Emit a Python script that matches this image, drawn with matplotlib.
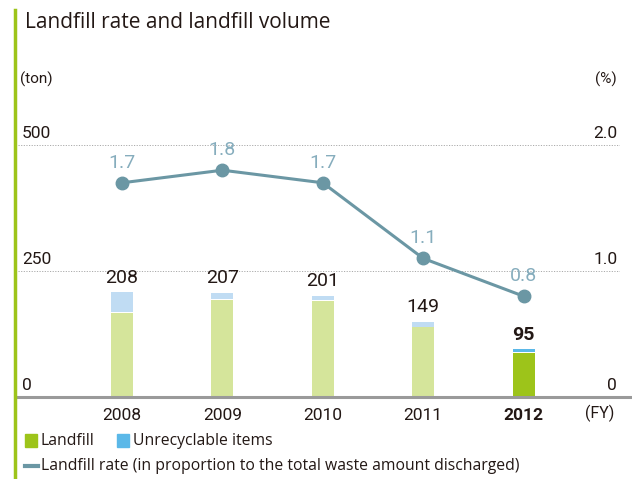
import matplotlib
matplotlib.use('Agg')
import matplotlib.pyplot as plt
from matplotlib.patches import Rectangle
from matplotlib.lines import Line2D

# data
years = ['2008', '2009', '2010', '2011', '2012']
landfill = [167, 193, 191, 138, 87]
unrecyclable = [41, 14, 10, 11, 8]
totals = [208, 207, 201, 149, 95]
rate = [1.7, 1.8, 1.7, 1.1, 0.8]
left_ticks = [0, 250, 500]
right_ticks = ['0', '1.0', '2.0']

num_font = ['Roboto', 'DejaVu Sans']
txt_font = ['Open Sans', 'DejaVu Sans']

green = '#9dc41a'
green_l = '#d5e59b'
blue = '#5bb8e8'
blue_l = '#c0dcf3'
line_c = '#6b97a4'
label_c = '#86adbd'
text_c = '#231815'
grid_c = '#9a9a9a'

W, H = 632, 479
fig = plt.figure(figsize=(W / 100, H / 100), dpi=100)

# axes: data 0 at y=397px, 500 at y=145px; bars centred at 122 + 100.4*i
ax_left, ax_right = 18, 620
ax_bottom, ax_top = 397, 137
ax = fig.add_axes([ax_left / W, 1 - ax_bottom / H,
                   (ax_right - ax_left) / W, (ax_bottom - ax_top) / H])
ymax = 500 * (ax_bottom - ax_top) / (397 - 145)
ax.set_ylim(0, ymax)
x0 = (ax_left - 122) / 100.4
x1 = (ax_right - 122) / 100.4
ax.set_xlim(x0, x1)
ax.axis('off')

xs = list(range(len(years)))
bw = 0.22
gap = 1.6  # white gap between segments, in tons

for i in xs:
    last = i == len(xs) - 1
    ax.bar(i, landfill[i], width=bw, color=green if last else green_l, zorder=2)
    ax.bar(i, unrecyclable[i] - gap, bottom=landfill[i] + gap, width=bw,
           color=blue if last else blue_l, zorder=2)
    ax.annotate(str(totals[i]), (i, totals[i]), xytext=(0, 4), textcoords='offset points',
                ha='center', va='bottom', fontsize=14, color=text_c, family=num_font,
                fontweight='bold' if last else 'normal')

# grid lines
for v in left_ticks[1:]:
    ax.plot([x0, x1], [v, v], color='#aaaaaa', lw=0.7, ls=(0, (1.2, 1.5)), zorder=1)
ax.plot([x0, x1 + 0.2], [0, 0], color=grid_c, lw=2.2, zorder=3, clip_on=False)

# right axis for the rate
ax2 = ax.twinx()
ax2.set_ylim(0, ymax / 250)
ax2.axis('off')
ax2.plot(xs, rate, color=line_c, lw=2.2, marker='o', ms=9, zorder=4)
for i in xs:
    ax2.annotate(f'{rate[i]:.1f}', (i, rate[i]), xytext=(0, 8), textcoords='offset points',
                 ha='center', va='bottom', fontsize=14, color=label_c, family=num_font)

# tick labels
for v in left_ticks:
    ax.annotate(str(v), (x0, v), xytext=(3, 3), textcoords='offset points',
                ha='left', va='bottom', fontsize=12.5, color=text_c, family=num_font)
for v, s in zip(left_ticks, right_ticks):
    ax.annotate(s, (x1, v), xytext=(-2, 3), textcoords='offset points',
                ha='right', va='bottom', fontsize=12.5, color=text_c, family=num_font)

for i, yr in enumerate(years):
    ax.annotate(yr, (i, 0), xytext=(0, -8), textcoords='offset points', ha='center',
                va='top', fontsize=12.5, color=text_c, family=num_font,
                fontweight='bold' if i == len(years) - 1 else 'normal', annotation_clip=False)
fig.text(614 / W, 1 - 413 / H, '(FY)', ha='right', va='center', fontsize=11.5,
         color=text_c, family=num_font)

fig.text(20 / W, 1 - 79 / H, '(ton)', ha='left', va='center', fontsize=11,
         color=text_c, family=num_font)
fig.text(617 / W, 1 - 79 / H, '(%)', ha='right', va='center', fontsize=11,
         color=text_c, family=num_font)

# title and left accent bar
fig.text(25 / W, 1 - 22 / H, 'Landfill rate and landfill volume', ha='left', va='center',
         fontsize=15, color=text_c, family=txt_font)
fig.add_artist(Line2D([14.5 / W, 14.5 / W], [0, 1 - 10 / H], color=green, lw=2.5))

# legend
fig.add_artist(Rectangle((25 / W, 1 - 447 / H), 12 / W, 13 / H, color=green))
fig.text(41 / W, 1 - 441 / H, 'Landfill', ha='left', va='center', fontsize=11.3,
         color=text_c, family=txt_font)
fig.add_artist(Rectangle((117 / W, 1 - 447 / H), 12 / W, 13 / H, color=blue))
fig.text(133 / W, 1 - 441 / H, 'Unrecyclable items', ha='left', va='center', fontsize=11.3,
         color=text_c, family=txt_font)
fig.add_artist(Line2D([25 / W, 38 / W], [1 - 466 / H, 1 - 466 / H], color=line_c, lw=3))
fig.text(41 / W, 1 - 466 / H,
         'Landfill rate (in proportion to the total waste amount discharged)',
         ha='left', va='center', fontsize=11.3, color=text_c, family=txt_font)

fig.savefig('out.png', dpi=100)
